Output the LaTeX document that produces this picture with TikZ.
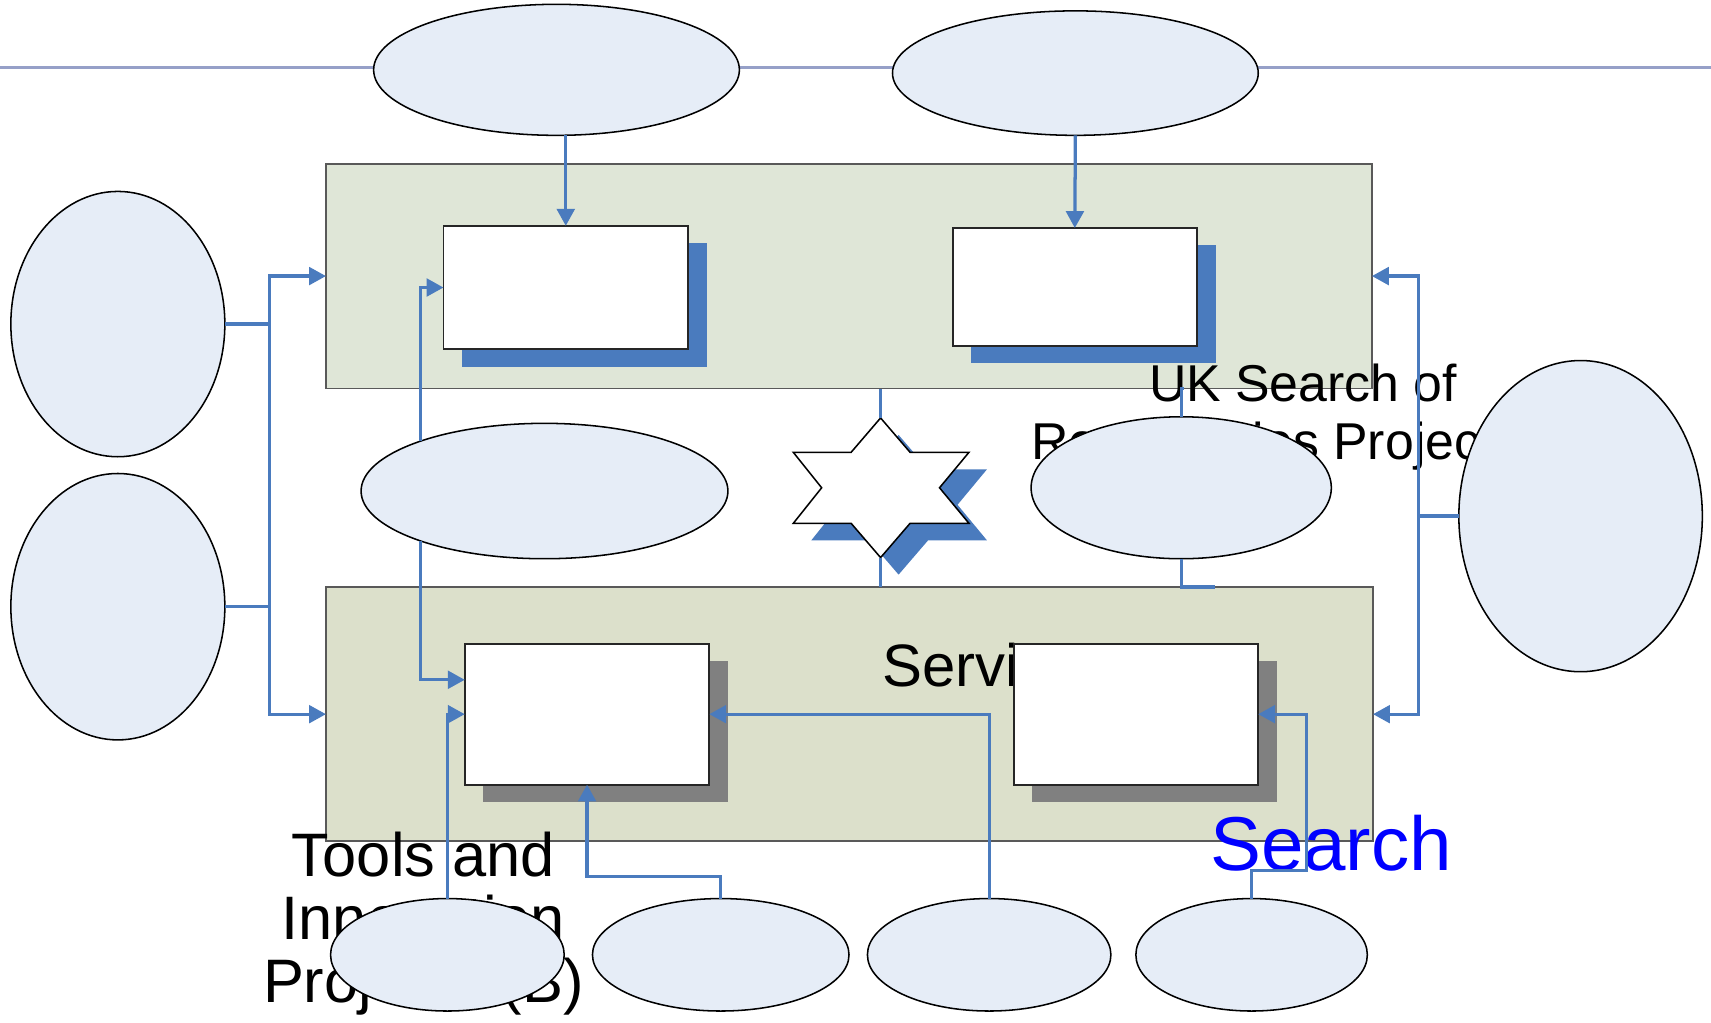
\documentclass[tikz,border=0pt]{standalone}
\usepackage{fontspec}
\setmainfont{Liberation Sans}
\usetikzlibrary{shapes.geometric,shadows,arrows.meta}
\definecolor{linkblue}{RGB}{74,123,190}
\definecolor{railgray}{RGB}{150,160,200}
\definecolor{ovalfill}{RGB}{230,237,247}
\definecolor{panelgreen}{RGB}{223,230,215}
\definecolor{panelkhaki}{RGB}{220,224,203}
\definecolor{shadowgray}{RGB}{128,128,128}
\definecolor{searchblue}{RGB}{0,0,255}
\begin{document}
\begin{tikzpicture}[x=0.01cm, y=-0.01cm,
	oval/.style={ellipse, draw=black, line width=0.4pt, fill=ovalfill, inner sep=0pt, outer sep=0pt},
	panel/.style={rectangle, draw=black!65, line width=0.5pt, inner sep=0pt, outer sep=0pt},
	card/.style={rectangle, draw=black!85, line width=0.5pt, fill=white, inner sep=0pt, outer sep=0pt, minimum width=2.24cm},
	blueshadow/.style={drop shadow={shadow xshift=0.17cm, shadow yshift=-0.16cm, fill=linkblue, opacity=1}},
	grayshadow/.style={drop shadow={shadow xshift=0.17cm, shadow yshift=-0.16cm, fill=shadowgray, opacity=1}},
	caption/.style={inner sep=0pt, outer sep=0pt},
	link/.style={draw=linkblue, line width=0.85pt},
	arr/.style={link, -{Triangle[length=4.4pt, width=4.6pt]}},
	]
	\useasboundingbox (0,0) rectangle (1568,937);

	% linea orizzontale
	\coordinate (railW) at (0,62);
	\coordinate (railE) at (1568,62);
	\draw[draw=railgray, line width=0.7pt] (railW) -- (railE);

	% ellissi in alto
	\node[oval, minimum width=3.35cm, minimum height=1.20cm] (topA) at (510,64) {};
	\node[oval, minimum width=3.35cm, minimum height=1.14cm] (topB) at (985.5,67) {};

	% riquadri
	\node[panel, fill=panelgreen, minimum width=9.58cm, minimum height=2.06cm] (panelA) at (778,253) {};
	\node[panel, fill=panelkhaki, minimum width=9.59cm, minimum height=2.33cm] (panelB) at (778.5,654.5) {};

	% schede con ombra
	\node[card, blueshadow, minimum height=1.13cm] (cardUL) at (518.5,263.5) {};
	\node[card, blueshadow, minimum height=1.08cm] (cardUR) at (985,263) {};
	\node[card, grayshadow, minimum height=1.29cm] (cardLL) at (538,654.5) {};
	\node[caption, anchor=base west, font=\fontsize{15.6pt}{17pt}\selectfont] (servtext) at (809,629) {Services};
	\node[card, grayshadow, minimum height=1.29cm] (cardLR) at (1041,654.5) {};

	% testi
	\node[caption, anchor=base west, font=\fontsize{13.5pt}{14.5pt}\selectfont] (ukA) at (1053,368) {UK Search of};
	\node[caption, anchor=base west, font=\fontsize{13.5pt}{14.5pt}\selectfont] (ukB) at (945,421) {Repositories Project};
	\node[caption, align=center, anchor=base, font=\fontsize{16pt}{16.5pt}\selectfont] (tools) at (388,919) {Tools and\\Innovation\\Projects (B)};
	\node[caption, anchor=base west, text=searchblue, font=\fontsize{19.9pt}{22pt}\selectfont] (search) at (1109,798) {Search};

	% stella
	\coordinate (startop) at (807,383);
	\coordinate (starbot) at (807,511);
	\fill[linkblue, shift={(16.5,15.6)}] (807,383) -- (834,414.5) -- (888,414.5) -- (861,447) -- (888,479.6) -- (834,479.6)
		-- (807,511) -- (780,479.6) -- (727,479.6) -- (753,447) -- (727,414.5) -- (780,414.5) -- cycle;
	\draw[fill=white, line width=0.4pt] (807,383) -- (834,414.5) -- (888,414.5) -- (861,447) -- (888,479.6) -- (834,479.6)
		-- (807,511) -- (780,479.6) -- (727,479.6) -- (753,447) -- (727,414.5) -- (780,414.5) -- cycle;

	% ellissi
	\node[oval, minimum width=3.36cm, minimum height=1.24cm] (midA) at (499,450) {};
	\node[oval, minimum width=2.75cm, minimum height=1.30cm] (midB) at (1082.5,447) {};
	\node[oval, minimum width=2.23cm, minimum height=2.85cm] (right) at (1448.5,473) {};
	\node[oval, minimum width=1.96cm, minimum height=2.43cm] (leftA) at (108,297) {};
	\node[oval, minimum width=1.96cm, minimum height=2.44cm] (leftB) at (108,556) {};
	\node[oval, minimum width=2.14cm, minimum height=1.03cm] (botA) at (410,875) {};
	\node[oval, minimum width=2.35cm, minimum height=1.03cm] (botB) at (660.5,875) {};
	\node[oval, minimum width=2.23cm, minimum height=1.03cm] (botC) at (906.5,875) {};
	\node[oval, minimum width=2.12cm, minimum height=1.03cm] (botD) at (1147,875) {};

	% collegamenti
	\draw[arr] (cardUL.north |- topA.south) -- (cardUL.north);
	\draw[arr] (topB.south) -- (cardUR.north);
	\draw[arr] (leftA.east) -- ++(41,0) |- (panelA.west);
	\draw[arr] (leftA.east) -- ++(41,0) |- (panelB.west);
	\draw[link] (leftB.east) -- ++(41,0);
	\draw[arr] (right.west) -- ++(-37,0) |- (panelA.east);
	\draw[arr] (right.west) -- ++(-37,0) |- (panelB.east);
	\draw[arr] (midA.158.6) |- (cardUL.west);
	\draw[arr] (midA.202.3) |- ([yshift=0.315cm]cardLL.west);
	\draw[arr] (botA.north) |- (cardLL.west);
	\draw[arr] (botB.north) -- ++(0,-20) -| (cardLL.south);
	\draw[arr] (botC.north) |- (cardLL.east);
	\draw[arr] (botD.north) -- ++(0,-26) -- ++(50,0) |- (cardLR.east);
	\draw[link] (startop) -- (startop |- panelA.south);
	\draw[link] (starbot) -- (starbot |- panelB.north);
	\draw[link] (midB.north) -- (midB.north |- panelA.south) -- ++(3,0);
	\draw[link] (midB.south) -- (midB.south |- panelB.north) -- ++(31,0);
\end{tikzpicture}
\end{document}
